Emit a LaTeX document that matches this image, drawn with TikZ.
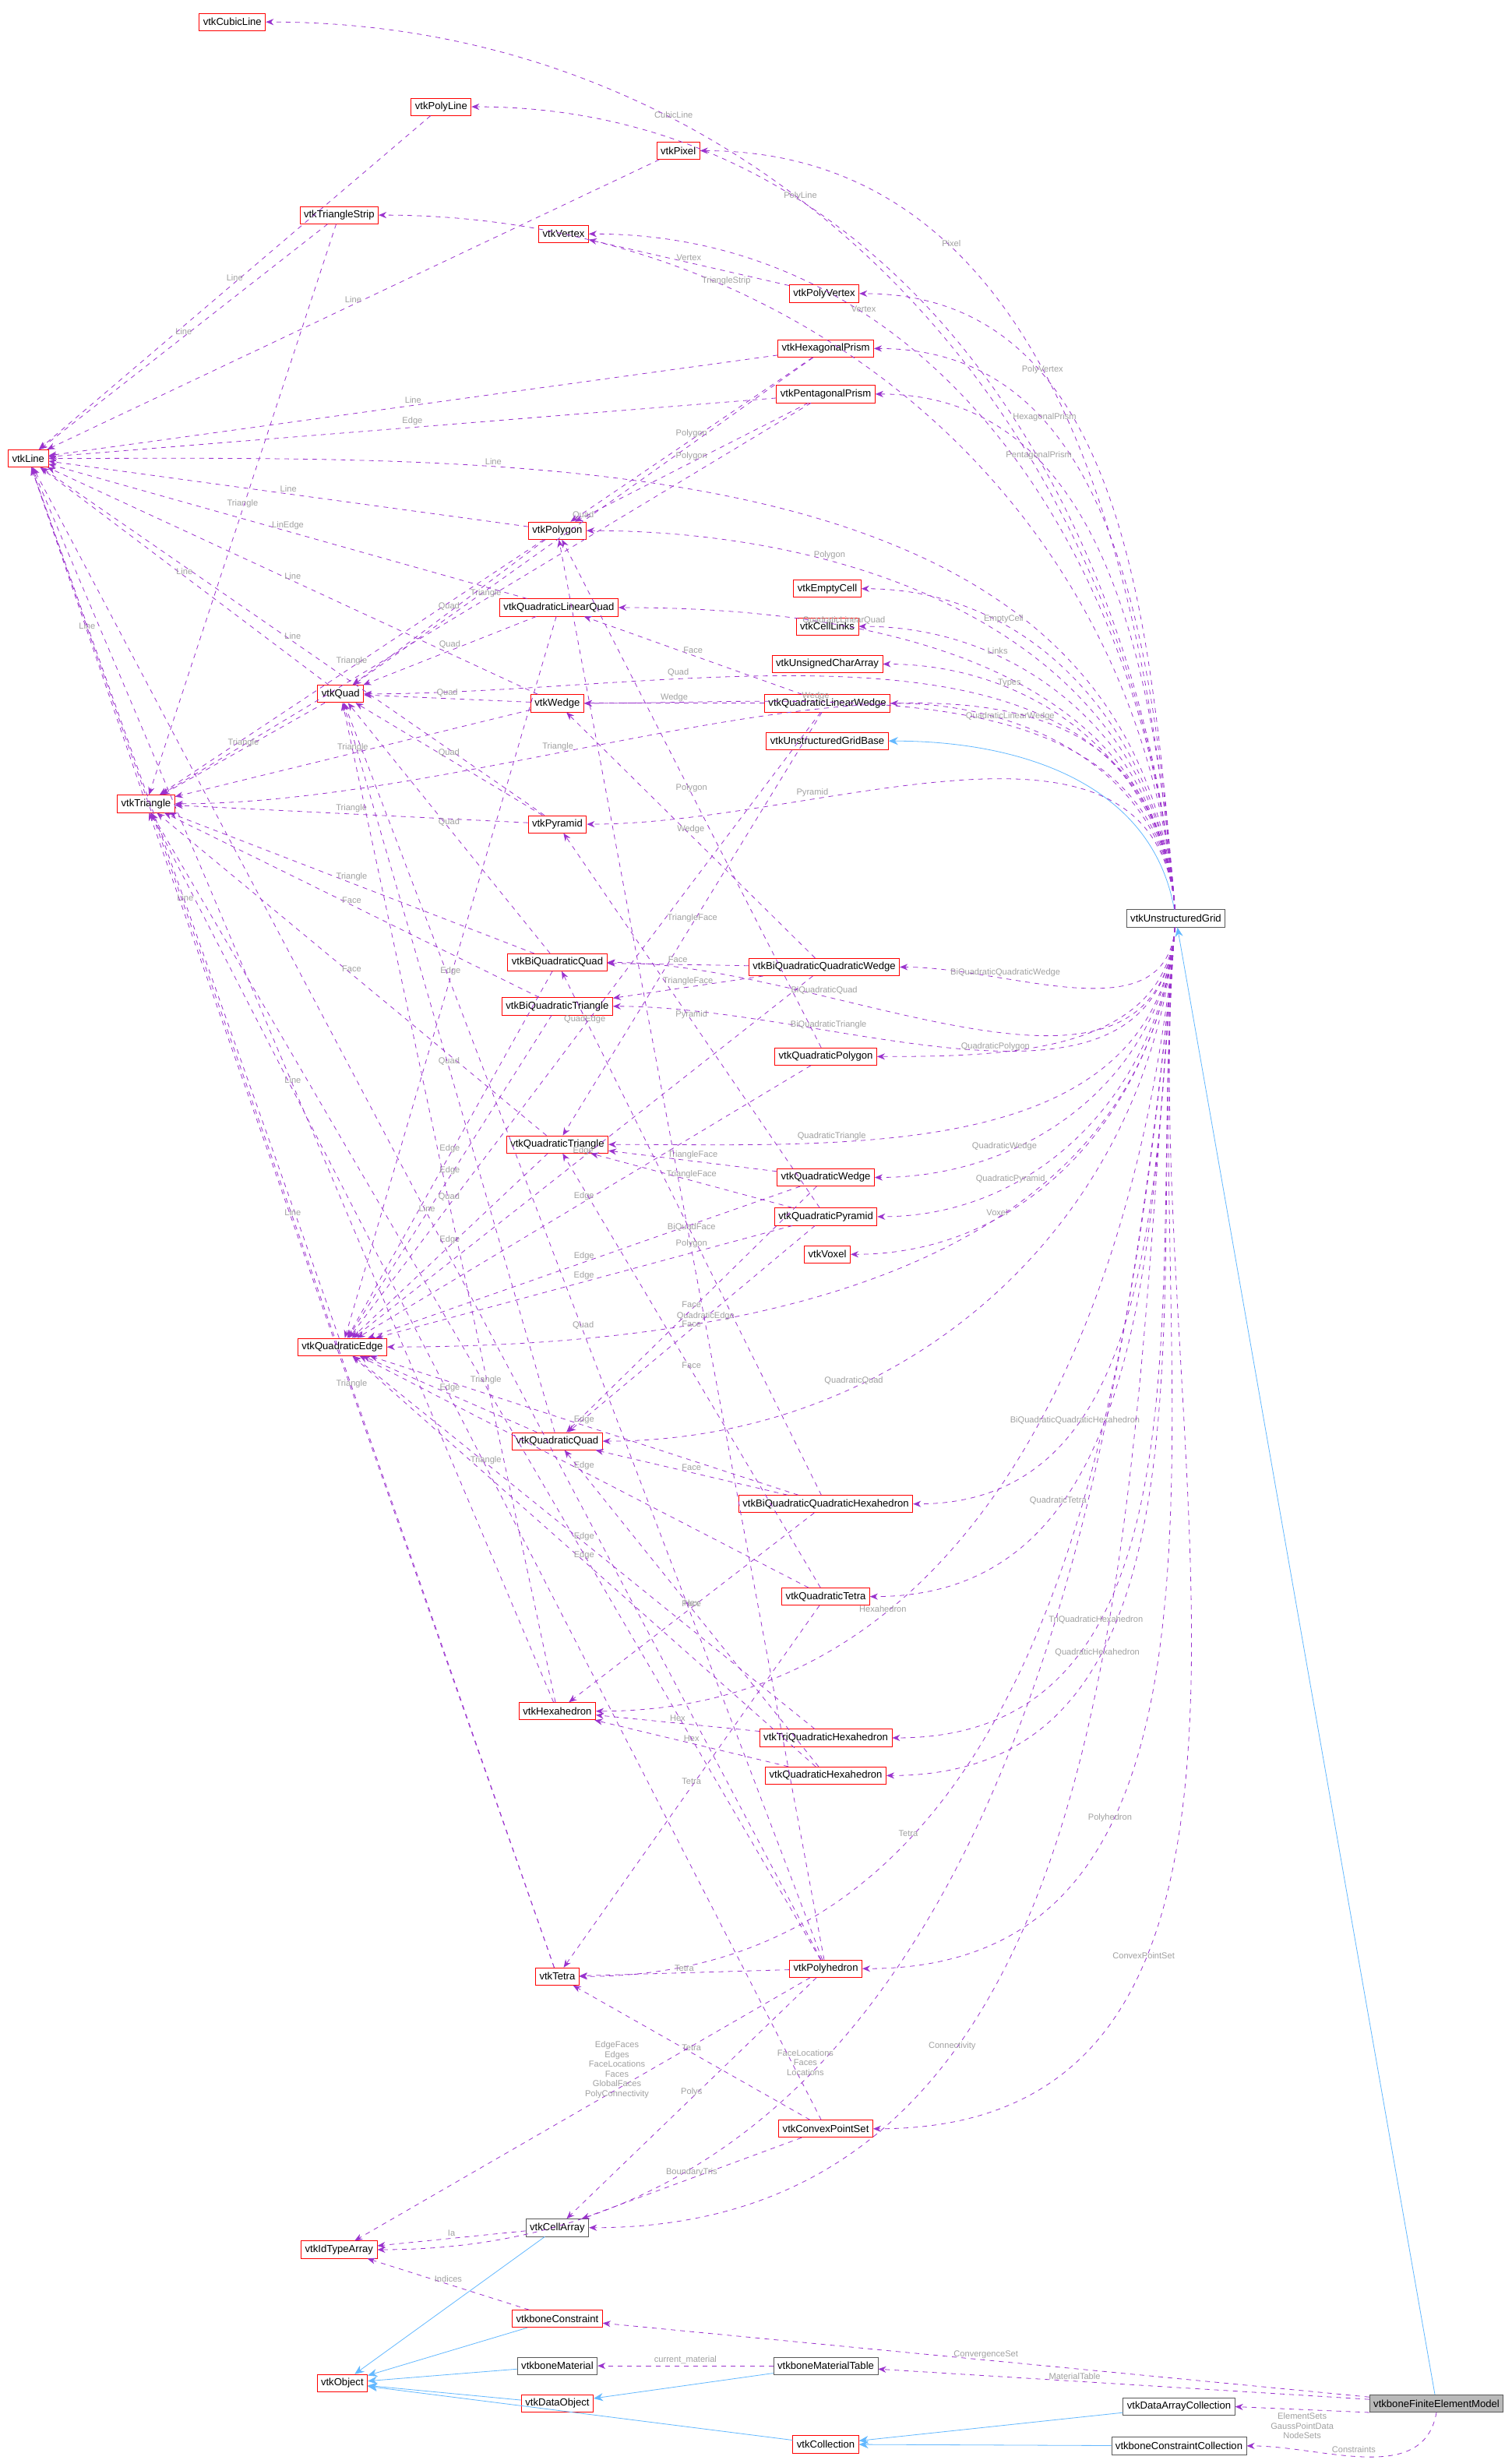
\documentclass[tikz,border=0pt]{standalone}
\usepackage{fontspec}
\setmainfont{Liberation Sans}
\usetikzlibrary{arrows.meta}
\definecolor{relc}{HTML}{9A32CD}
\definecolor{inhc}{HTML}{63B8FF}
\definecolor{labc}{HTML}{A0A0A0}
\tikzset{
  cls/.style={draw=red, fill=white, font=\fontsize{6.5}{7.5}\selectfont, inner sep=2.5pt, minimum height=11pt},
  okcls/.style={cls, draw=gray!70!black},
  rel/.style={draw=relc, dashed, -{Stealth[length=5pt,width=4pt]}},
  inh/.style={draw=inhc, -{Stealth[length=6pt,width=5pt]}},
  lab/.style={text=labc, font=\fontsize{5.5}{6.2}\selectfont, align=center, inner sep=1pt}
}
\begin{document}
\begin{tikzpicture}[x=1pt,y=-1pt]
        \useasboundingbox (0,0) rectangle (963,1567);
        % Klassen
        \node[cls] (cubic) at (148,14) {vtkCubicLine};
        \node[cls] (line) at (18,292) {vtkLine};
        \node[cls] (polyline) at (281,68) {vtkPolyLine};
        \node[cls] (pixel) at (432,96) {vtkPixel};
        \node[cls] (tstrip) at (216,137) {vtkTriangleStrip};
        \node[cls] (vertex) at (359,149) {vtkVertex};
        \node[cls] (polyvertex) at (525,187) {vtkPolyVertex};
        \node[cls] (hexprism) at (526,222) {vtkHexagonalPrism};
        \node[cls] (pentprism) at (526,251) {vtkPentagonalPrism};
        \node[cls] (polygon) at (355,338) {vtkPolygon};
        \node[cls] (empty) at (527,375) {vtkEmptyCell};
        \node[cls] (qlquad) at (356,387) {vtkQuadraticLinearQuad};
        \node[cls] (links) at (527,399) {vtkCellLinks};
        \node[cls] (uchar) at (527,423) {vtkUnsignedCharArray};
        \node[cls] (quad) at (217,442) {vtkQuad};
        \node[cls] (wedge) at (355,448) {vtkWedge};
        \node[cls] (qlwedge) at (527,448) {vtkQuadraticLinearWedge};
        \node[cls] (ugbase) at (527,472) {vtkUnstructuredGridBase};
        \node[cls] (tri) at (93,512) {vtkTriangle};
        \node[cls] (pyr) at (355,525) {vtkPyramid};
        \node[okcls] (ug) at (749,585) {vtkUnstructuredGrid};
        \node[cls] (bqquad) at (355,613) {vtkBiQuadraticQuad};
        \node[cls] (bqqwedge) at (525,616) {vtkBiQuadraticQuadraticWedge};
        \node[cls] (bqtri) at (355,641) {vtkBiQuadraticTriangle};
        \node[cls] (qpoly) at (526,673) {vtkQuadraticPolygon};
        \node[cls] (qtri) at (355,729) {vtkQuadraticTriangle};
        \node[cls] (qwedge) at (526,750) {vtkQuadraticWedge};
        \node[cls] (qpyr) at (526,775) {vtkQuadraticPyramid};
        \node[cls] (voxel) at (527,799) {vtkVoxel};
        \node[cls] (qedge) at (218,858) {vtkQuadraticEdge};
        \node[cls] (qquad) at (355,918) {vtkQuadraticQuad};
        \node[cls] (bqqhex) at (526,958) {vtkBiQuadraticQuadraticHexahedron};
        \node[cls] (qtet) at (526,1017) {vtkQuadraticTetra};
        \node[cls] (hex) at (355,1090) {vtkHexahedron};
        \node[cls] (tqhex) at (526,1107) {vtkTriQuadraticHexahedron};
        \node[cls] (qhex) at (526,1131) {vtkQuadraticHexahedron};
        \node[cls] (tet) at (355,1259) {vtkTetra};
        \node[cls] (polyh) at (526,1254) {vtkPolyhedron};
        \node[cls] (cps) at (526,1356) {vtkConvexPointSet};
        \node[okcls] (carr) at (355,1419) {vtkCellArray};
        \node[cls] (idarr) at (216,1433) {vtkIdTypeArray};
        \node[cls] (bcons) at (355,1477) {vtkboneConstraint};
        \node[okcls] (bmat) at (355,1507) {vtkboneMaterial};
        \node[okcls] (bmtab) at (526,1507) {vtkboneMaterialTable};
        \node[cls] (obj) at (218,1518) {vtkObject};
        \node[cls] (dobj) at (355,1531) {vtkDataObject};
        \node[cls] (coll) at (526,1557) {vtkCollection};
        \node[okcls] (dacoll) at (751,1533) {vtkDataArrayCollection};
        \node[okcls] (bccoll) at (751,1558) {vtkboneConstraintCollection};
        \node[okcls, fill=gray!55] (fem) at (915,1531) {vtkboneFiniteElementModel};

        % Vererbung
        \draw[inh] (fem) -- (ug);
        \draw[inh] (ug) to[out=100,in=0] (ugbase);
        \foreach \s in {carr,bcons,bmat,dobj,coll}
          \draw[inh] (\s) -- (obj);
        \draw[inh] (bmtab) -- (dobj);
        \draw[inh] (dacoll) -- (coll);
        \draw[inh] (bccoll) -- (coll);

        % Beziehungen vom Gitter nach oben
        \foreach \t/\l in {cubic/CubicLine, line/Line, polyline/PolyLine, pixel/Pixel,
            tstrip/TriangleStrip, vertex/Vertex, polyvertex/PolyVertex,
            hexprism/HexagonalPrism, pentprism/PentagonalPrism, polygon/Polygon,
            quad/Quad, qlquad/QuadraticLinearQuad, empty/EmptyCell, links/Links,
            uchar/Types, qlwedge/QuadraticLinearWedge, wedge/Wedge, tri/Triangle,
            pyr/Pyramid}
          \draw[rel] (ug) to[out=95,in=0] node[lab, pos=0.7, above] {\l} (\t);
        % Beziehungen vom Gitter nach unten
        \foreach \t/\l in {bqquad/BiQuadraticQuad, bqqwedge/BiQuadraticQuadraticWedge,
            bqtri/BiQuadraticTriangle, qpoly/QuadraticPolygon, qtri/QuadraticTriangle,
            qwedge/QuadraticWedge, qpyr/QuadraticPyramid, voxel/Voxel, qquad/QuadraticQuad,
            bqqhex/BiQuadraticQuadraticHexahedron, qtet/QuadraticTetra, hex/Hexahedron,
            tqhex/TriQuadraticHexahedron, qhex/QuadraticHexahedron, qedge/QuadraticEdge,
            polyh/Polyhedron, tet/Tetra, cps/ConvexPointSet, carr/Connectivity,
            idarr/{FaceLocations\\Faces\\Locations}}
          \draw[rel] (ug) to[out=-95,in=0] node[lab, pos=0.7, above] {\l} (\t);

        % Beziehungen zwischen den Zellen
        \foreach \s/\t/\l in {polyline/line/Line, pixel/line/Line, tstrip/line/Line,
            tstrip/tri/Triangle, polyvertex/vertex/Vertex, hexprism/line/Line,
            hexprism/quad/Quad, hexprism/polygon/Polygon, pentprism/line/Edge,
            pentprism/tri/Triangle, pentprism/polygon/Polygon, polygon/line/Line,
            polygon/tri/Triangle, polygon/quad/Quad, qlquad/line/LinEdge,
            qlquad/quad/Quad, qlquad/qedge/Edge, quad/line/Line, quad/tri/Triangle,
            wedge/quad/Quad, wedge/tri/Triangle, wedge/line/Line,
            qlwedge/qlquad/Face, qlwedge/wedge/Wedge, qlwedge/qedge/QuadEdge,
            qlwedge/qtri/TriangleFace, pyr/tri/Triangle, pyr/line/Line, pyr/quad/Quad,
            tri/line/Line, bqquad/quad/Quad, bqquad/qedge/Edge, bqquad/tri/Triangle,
            bqtri/tri/Face, bqtri/qedge/Edge, bqqwedge/bqquad/Face,
            bqqwedge/bqtri/TriangleFace, bqqwedge/wedge/Wedge, bqqwedge/qedge/Edge,
            qpoly/polygon/Polygon, qpoly/qedge/Edge, qtri/tri/Face, qtri/qedge/Edge,
            qwedge/qtri/TriangleFace, qwedge/qquad/Face, qwedge/qedge/Edge,
            qpyr/qtri/TriangleFace, qpyr/qquad/Face, qpyr/pyr/Pyramid, qpyr/qedge/Edge,
            qedge/line/Line, qquad/quad/Quad, qquad/qedge/Edge,
            bqqhex/bqquad/BiQuadFace, bqqhex/qquad/Face, bqqhex/qedge/Edge,
            bqqhex/hex/Hex, qtet/qtri/Face, qtet/qedge/Edge, qtet/tet/Tetra,
            hex/line/Line, hex/quad/Quad, tqhex/hex/Hex, tqhex/qedge/Edge,
            qhex/hex/Hex, qhex/qquad/Face, qhex/qedge/Edge, tet/line/Line,
            tet/tri/Triangle, polyh/tet/Tetra, polyh/line/Line, polyh/tri/Triangle,
            polyh/quad/Quad, polyh/polygon/Polygon, polyh/carr/Polys,
            cps/tet/Tetra, cps/carr/BoundaryTris, cps/tri/Triangle,
            carr/idarr/Ia, bcons/idarr/Indices, bmtab/bmat/current\_material}
          \draw[rel] (\s) -- node[lab, midway, above] {\l} (\t);
        \draw[rel] (polyh) -- node[lab, pos=0.35, left] {EdgeFaces\\Edges\\FaceLocations\\Faces\\GlobalFaces\\PolyConnectivity} (idarr);

        % Modell
        \draw[rel] (fem) -- node[lab, pos=0.5, above] {ConvergenceSet} (bcons);
        \draw[rel] (fem) -- node[lab, pos=0.6, above] {MaterialTable} (bmtab);
        \draw[rel] (fem.south west) -- node[lab, pos=0.5, below=1pt] {ElementSets\\GaussPointData\\NodeSets} (dacoll.east);
        \draw[rel] (fem.south) to[out=-100,in=0] node[lab, pos=0.55, above=1pt] {Constraints} (bccoll.east);
\end{tikzpicture}
\end{document}
